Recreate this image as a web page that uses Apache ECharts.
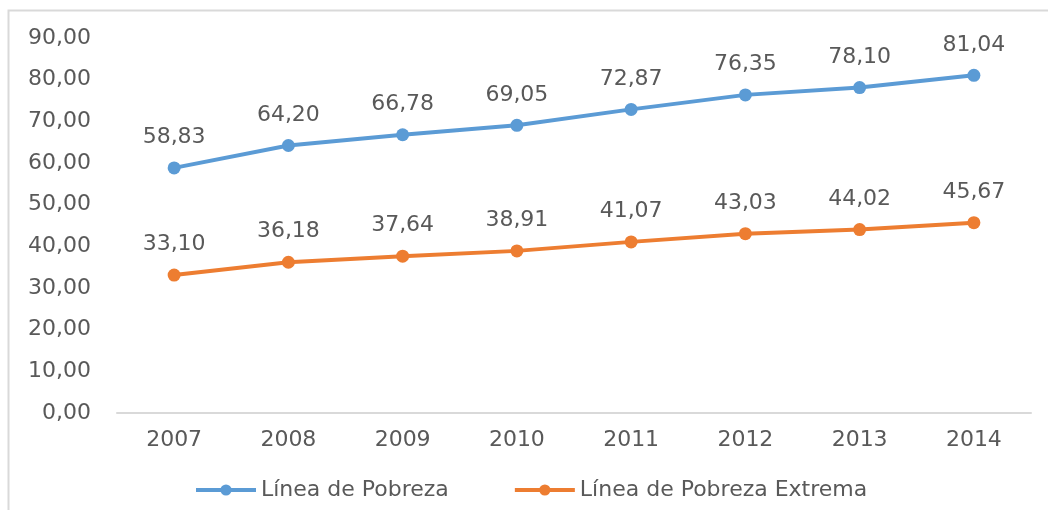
<!DOCTYPE html>
<html>
<head>
<meta charset="utf-8">
<script src="https://cdn.jsdelivr.net/npm/echarts@6/dist/echarts.min.js"></script>
<style>
  html, body { margin: 0; padding: 0; background: #fff; }
  #chart { width: 1048px; height: 510px; }
</style>
</head>
<body>
<div id="chart"></div>
<script>
// data
var years = ['2007', '2008', '2009', '2010', '2011', '2012', '2013', '2014'];
var pobreza = [58.83, 64.20, 66.78, 69.05, 72.87, 76.35, 78.10, 81.04];
var pobrezaExtrema = [33.10, 36.18, 37.64, 38.91, 41.07, 43.03, 44.02, 45.67];
var seriesNames = ['Línea de Pobreza', 'Línea de Pobreza Extrema'];
var colors = ['#5B9BD5', '#ED7D31'];

var font = 'DejaVu Sans';
var textColor = '#595959';

function comma(v) {
    return v.toFixed(2).replace('.', ',');
}

function makeSeries(name, data, color) {
    return {
        name: name,
        type: 'line',
        data: data,
        symbol: 'circle',
        symbolSize: 13,
        lineStyle: { color: color, width: 4 },
        itemStyle: { color: color },
        label: {
            show: true,
            position: 'top',
            distance: 13,
            color: textColor,
            fontFamily: font,
            fontSize: 22,
            formatter: function (p) { return comma(p.value); }
        },
        animation: false
    };
}

var chart = echarts.init(document.getElementById('chart'));
chart.setOption({
    backgroundColor: '#fff',
    textStyle: { fontFamily: font },
    graphic: [{
        type: 'rect',
        shape: { x: 8.5, y: 10.5, width: 1200, height: 700 },
        style: { fill: 'none', stroke: '#D9D9D9', lineWidth: 2 },
        silent: true
    }],
    grid: { left: 117, right: 17, top: 38, bottom: 97 },
    legend: {
        left: 189,
        top: 474,
        itemWidth: 60,
        itemHeight: 14,
        itemGap: 64,
        lineStyle: { width: 4 },
        textStyle: { color: textColor, fontFamily: font, fontSize: 22 },
        data: seriesNames
    },
    xAxis: {
        type: 'category',
        data: years,
        boundaryGap: true,
        axisLine: { lineStyle: { color: '#D9D9D9', width: 2 } },
        axisTick: { show: false },
        axisLabel: { color: textColor, fontFamily: font, fontSize: 22, margin: 16 }
    },
    yAxis: {
        type: 'value',
        min: 0,
        max: 90,
        interval: 10,
        axisLine: { show: false },
        axisTick: { show: false },
        splitLine: { show: false },
        axisLabel: {
            color: textColor, fontFamily: font, fontSize: 22, margin: 26,
            formatter: function (v) { return comma(v); }
        }
    },
    series: [
        makeSeries(seriesNames[0], pobreza, colors[0]),
        makeSeries(seriesNames[1], pobrezaExtrema, colors[1])
    ]
});
</script>
</body>
</html>
